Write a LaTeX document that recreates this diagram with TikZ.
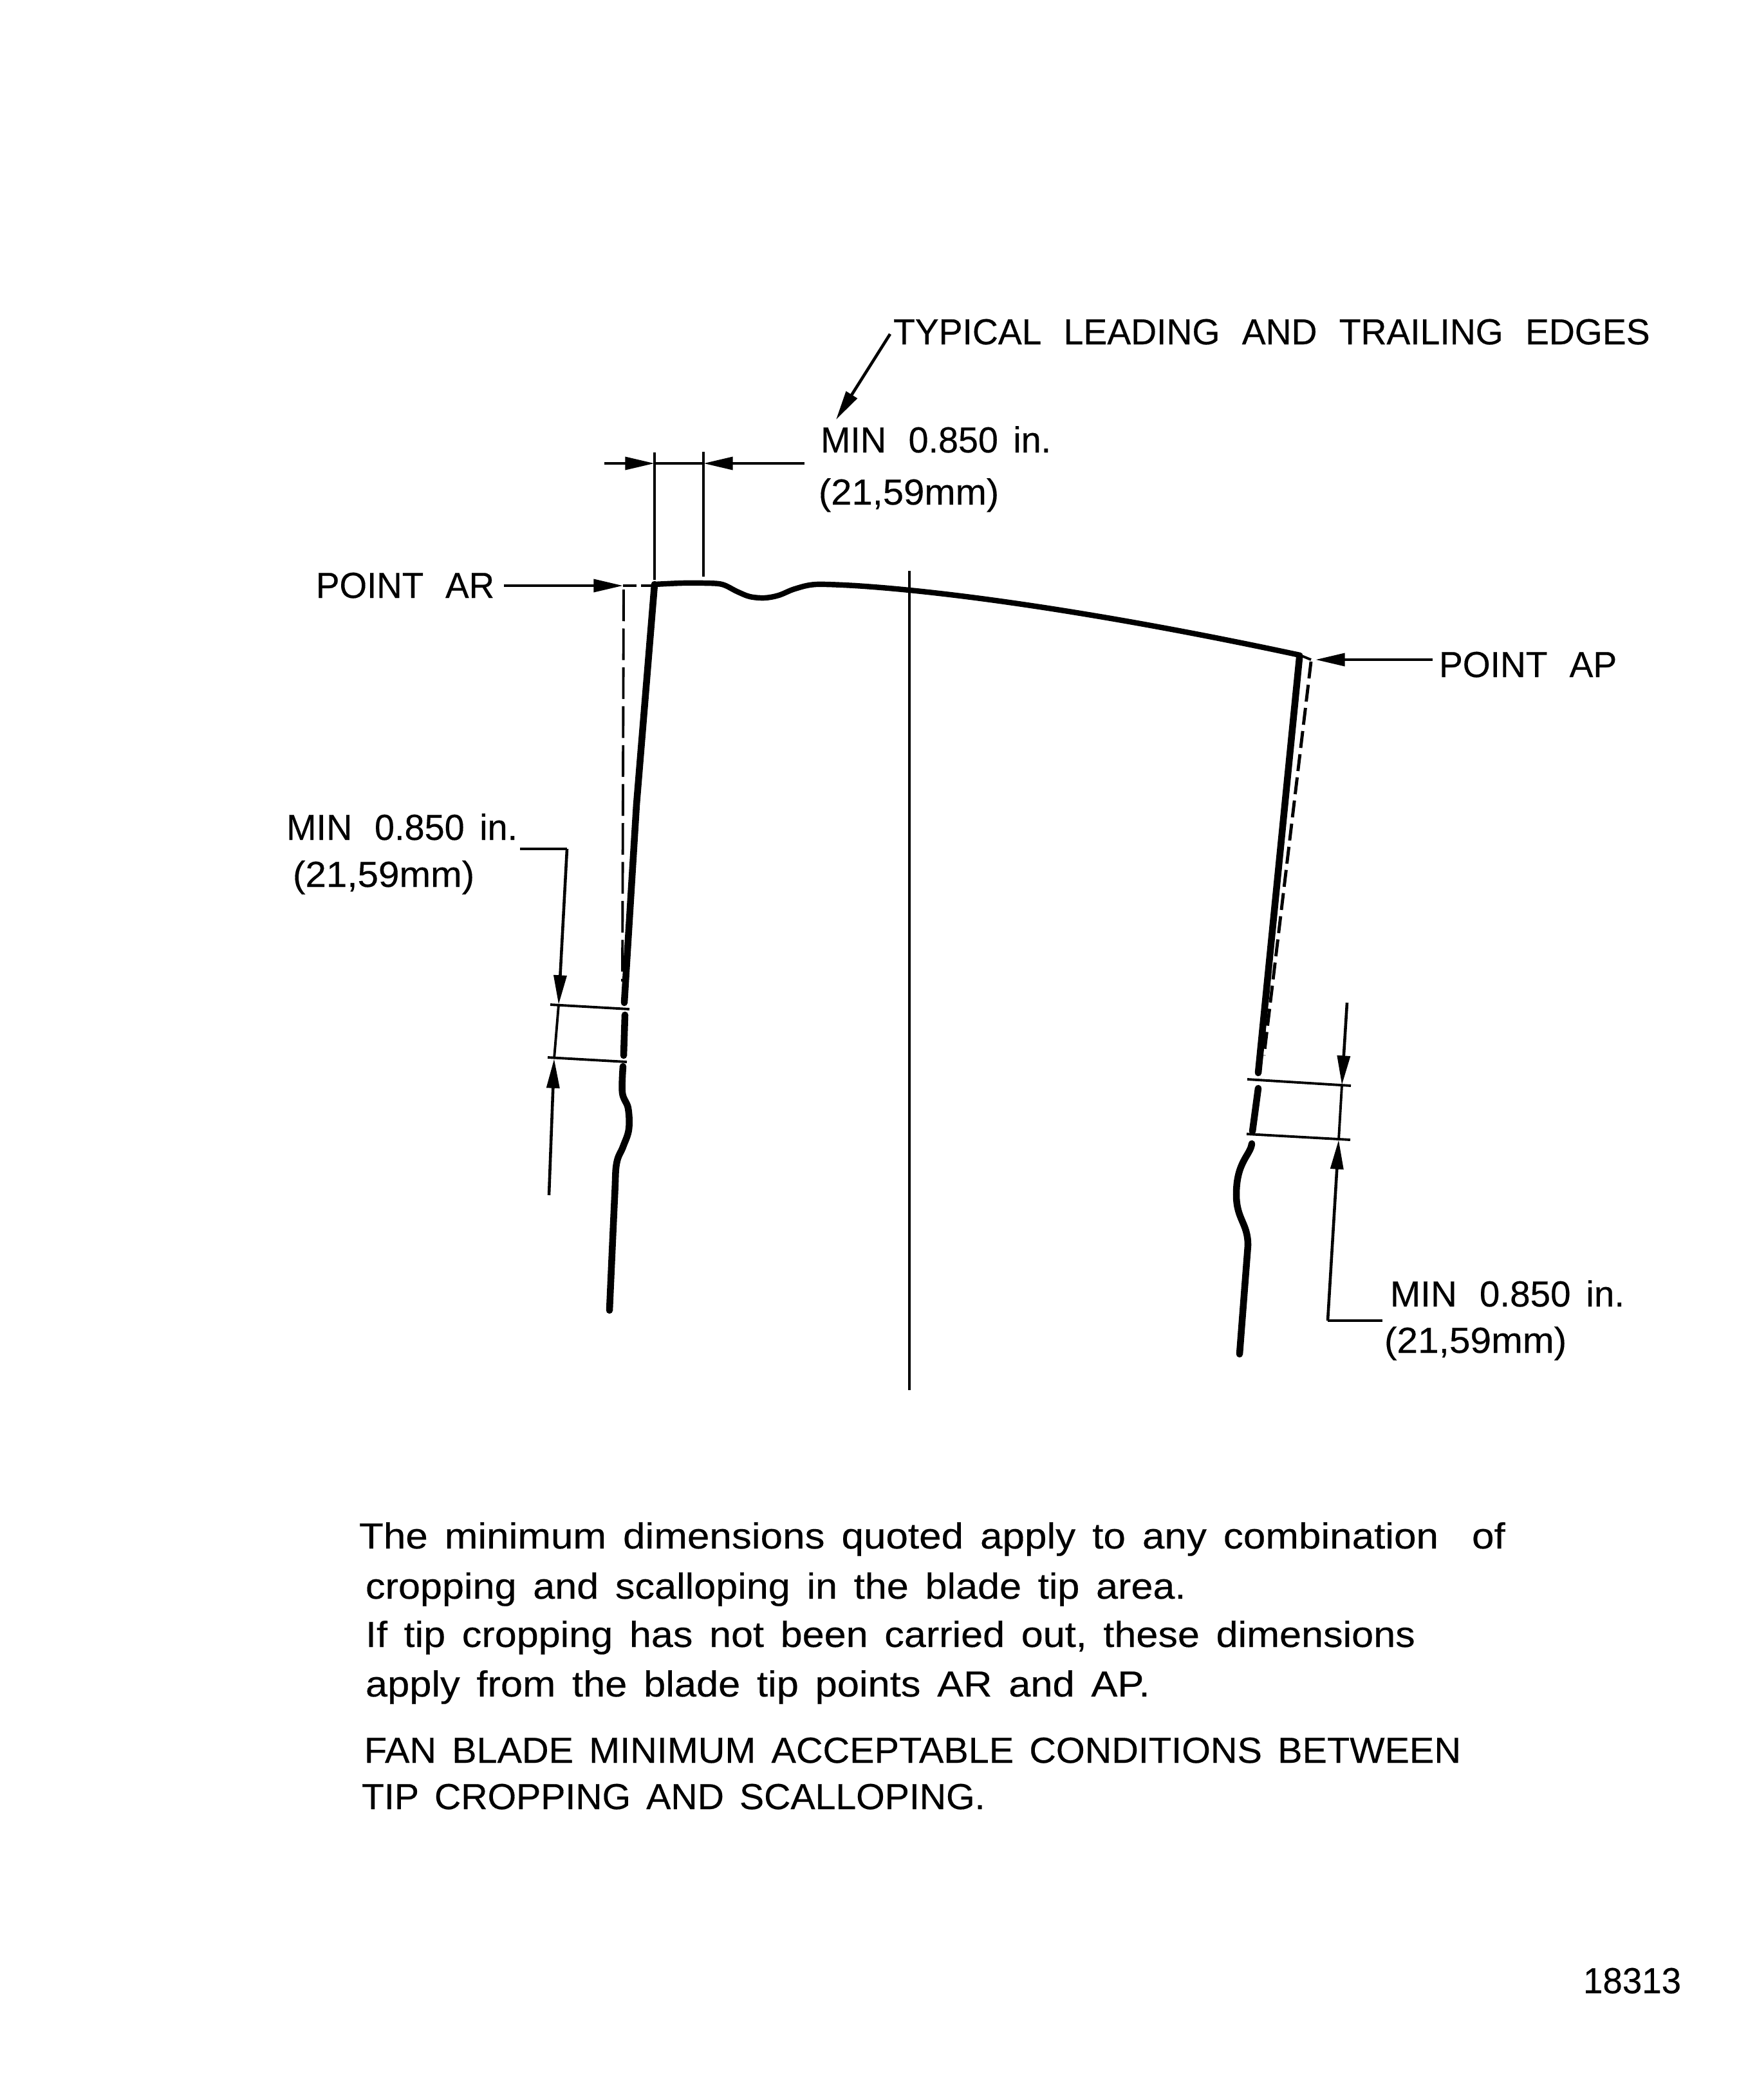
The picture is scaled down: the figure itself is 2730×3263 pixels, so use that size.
\documentclass[tikz,border=0pt]{standalone}
\usepackage{fontspec}
\usepackage{graphicx}
\setmainfont{Liberation Sans}[FakeBold=0.3]
\usetikzlibrary{arrows.meta}
\newbox\fitbox
% #1 width in reference pixels, #2 text: stretched horizontally to that width
\newcommand{\fitw}[2]{\setbox\fitbox\hbox{\fontsize{16pt}{18pt}\selectfont\spaceskip=0.42em #2}%
  \pgfmathsetmacro{\fitsx}{#1*0.284528/\the\wd\fitbox}%
  \scalebox{\fitsx}[1]{\box\fitbox}}
\newcommand{\wgap}{\kern0.2em\ }
\tikzset{
  thinline/.style={line width=1.1pt,line cap=butt},
  thickline/.style={line width=3pt,line cap=round,line join=round},
  profile/.style={line width=2.4pt,line cap=round,line join=round},
  dashline/.style={line width=1.1pt,dash pattern=on 14pt off 3.2pt},
  dashlineb/.style={line width=1.4pt,dash pattern=on 7.5pt off 2.8pt},
  headline/.style={line width=1.3pt,-{Triangle[length=13pt,width=5.6pt]}},
  lab/.style={anchor=base west,inner sep=0pt,outer sep=0pt}
}
\begin{document}
\begin{tikzpicture}[x=0.01cm,y=-0.01cm]
\useasboundingbox (0,0) rectangle (2730,3263);
\fill[white] (0,0) rectangle (2730,3263);

% reference points
\coordinate (ctop) at (1413,887);
\coordinate (cbot) at (1413,2160);
\coordinate (lead0) at (1383,519);
\coordinate (lead1) at (1299,652);
\coordinate (dimL) at (939,720);
\coordinate (dimLt) at (1017,720);
\coordinate (dimR) at (1250,720);
\coordinate (dimRt) at (1093,720);
\coordinate (ext1a) at (1017,703);
\coordinate (ext1b) at (1017,901);
\coordinate (ext2a) at (1093,702);
\coordinate (ext2b) at (1093,896);
\coordinate (arS) at (783,910);
\coordinate (arT) at (968,910);
\coordinate (arE) at (1012,910);
\coordinate (apS) at (2226,1025);
\coordinate (apT) at (2044,1025);
\coordinate (tipR) at (2020,1018);
\coordinate (tipRd) at (2037,1025);

% centre line
\draw[thinline] (ctop) -- (cbot);

% top dimension
\draw[thinline] (ext1a) -- (ext1b);
\draw[thinline] (ext2a) -- (ext2b);
\draw[headline] (dimL) -- (dimLt);
\draw[headline] (dimR) -- (dimRt);
\draw[thinline] (dimLt) -- (dimRt);
\draw[headline] (lead0) -- (lead1);

% point AR / AP arrows
\draw[headline] (arS) -- (arT);
\draw[thinline,dash pattern=on 6pt off 2pt] (arT) -- (arE);
\draw[headline] (apS) -- (apT);
\draw[thinline] (tipR) -- (tipRd);

% blade tip profile
\draw[profile] plot[smooth,tension=0.55] coordinates {
  (1016,908) (1060,906) (1094,906) (1122,908) (1145,919) (1165,927) (1188,929)
  (1210,925) (1235,915) (1268,908) (1329,910)};
\draw[profile] (1329,910) .. controls (1500,921) and (1750,960) .. (tipR);

% left edge
\draw[thickline] (1017,908) -- (989,1250) -- (970,1558);
\draw[thickline] (971,1577) -- (969,1640);
\draw[thickline] plot[smooth,tension=0.6] coordinates {
  (968,1657) (967,1698) (976,1722) (977,1755) (968,1782) (958,1808) (955,1860) (947,2036)};
\draw[dashline] (969,916) -- (967,1525);

% left dimension
\coordinate (lext1a) at (855,1561);
\coordinate (lext1b) at (978,1568);
\coordinate (lext2a) at (851,1643);
\coordinate (lext2b) at (974,1650);
\coordinate (lldr0) at (808,1319);
\coordinate (lldr1) at (881,1319);
\coordinate (lt1) at (868,1561);
\coordinate (lt2) at (861,1645);
\coordinate (ltail) at (853,1857);
\draw[thinline] (lext1a) -- (lext1b);
\draw[thinline] (lext2a) -- (lext2b);
\draw[line width=1.2pt] (lldr0) -- (lldr1);
\draw[headline] (lldr1) -- (lt1);
\draw[thinline] (lt1) -- (lt2);
\draw[headline] (ltail) -- (lt2);

% right edge
\draw[thickline] (2019,1022) -- (1955,1667);
\draw[thickline] (1955,1691) -- (1946,1758);
\draw[thickline] (1945,1777) .. controls (1943,1795) and (1921,1805) .. (1921,1856)
  .. controls (1921,1895) and (1939,1900) .. (1939,1935) -- (1926,2104);
\draw[dashlineb] (2037,1028) -- (1964,1640);

% right dimension
\coordinate (rext1a) at (1938,1677);
\coordinate (rext1b) at (2099,1687);
\coordinate (rext2a) at (1937,1762);
\coordinate (rext2b) at (2098,1771);
\coordinate (rtop) at (2093,1558);
\coordinate (rt1) at (2085,1686);
\coordinate (rt2) at (2080,1771);
\coordinate (rc) at (2063,2052);
\coordinate (rldr) at (2148,2052);
\draw[thinline] (rext1a) -- (rext1b);
\draw[thinline] (rext2a) -- (rext2b);
\draw[headline] (rtop) -- (rt1);
\draw[thinline] (rt1) -- (rt2);
\draw[line width=1.2pt] (rldr) -- (rc);
\draw[headline] (rc) -- (rt2);

% labels
\node[lab] (t1) at (1388,535) {\fitw{1175}{TYPICAL\wgap LEADING\wgap AND\wgap TRAILING\wgap EDGES}};
\node[lab] (t2) at (1275,703) {\fitw{358}{MIN\wgap 0.850 in.}};
\node[lab] (t3) at (1272,784) {\fitw{280}{(21,59mm)}};
\node[lab] (t4) at (491,929) {\fitw{277}{POINT\wgap AR}};
\node[lab] (t5) at (2236,1052) {\fitw{276}{POINT\wgap AP}};
\node[lab] (t6) at (445,1305) {\fitw{359}{MIN\wgap 0.850 in.}};
\node[lab] (t7) at (455,1378) {\fitw{282}{(21,59mm)}};
\node[lab] (t8) at (2160,2030) {\fitw{364}{MIN\wgap 0.850 in.}};
\node[lab] (t9) at (2151,2102) {\fitw{283}{(21,59mm)}};
\node[lab] (b1) at (558,2406) {\fitw{1780}{The minimum dimensions quoted apply to any combination~ of}};
\node[lab] (b2) at (568,2484) {\fitw{1274}{cropping and scalloping in the blade tip area.}};
\node[lab] (b3) at (568,2559) {\fitw{1630}{If tip cropping has not been carried out, these dimensions}};
\node[lab] (b4) at (568,2636) {\fitw{1218}{apply from the blade tip points AR and AP.}};
\node[lab] (b5) at (566,2739) {\fitw{1703}{FAN BLADE MINIMUM ACCEPTABLE CONDITIONS BETWEEN}};
\node[lab] (b6) at (562,2811) {\fitw{968}{TIP CROPPING AND SCALLOPING.}};
\node[lab] (b7) at (2460,3097) {\fitw{152}{18313}};
\end{tikzpicture}
\end{document}
